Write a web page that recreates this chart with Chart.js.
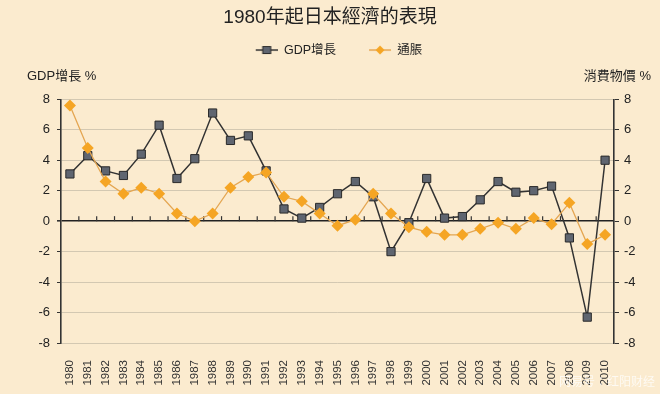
<!DOCTYPE html>
<html>
<head>
<meta charset="utf-8">
<script src="https://cdn.jsdelivr.net/npm/chart.js@4.4.1/dist/chart.umd.min.js"></script>
<style>
  body { margin: 0; background: #fbebcf; }
  canvas { display: block; }
</style>
</head>
<body>
<canvas id="chart" width="660" height="394"></canvas>
<script>
const years = ['1980', '1981', '1982', '1983', '1984', '1985', '1986', '1987', '1988', '1989',
  '1990', '1991', '1992', '1993', '1994', '1995', '1996', '1997', '1998', '1999',
  '2000', '2001', '2002', '2003', '2004', '2005', '2006', '2007', '2008', '2009', '2010'];
const gdpGrowth = [3.1, 4.3, 3.3, 3.0, 4.4, 6.3, 2.8, 4.1, 7.1, 5.3,
  5.6, 3.3, 0.8, 0.2, 0.9, 1.8, 2.6, 1.6, -2.0, -0.1,
  2.8, 0.2, 0.3, 1.4, 2.6, 1.9, 2.0, 2.3, -1.1, -6.3, 4.0];
const inflation = [7.6, 4.8, 2.6, 1.8, 2.2, 1.8, 0.5, 0.0, 0.5, 2.2,
  2.9, 3.2, 1.6, 1.3, 0.5, -0.3, 0.1, 1.8, 0.5, -0.4,
  -0.7, -0.9, -0.9, -0.5, -0.1, -0.5, 0.2, -0.2, 1.2, -1.5, -0.9];
const yTicks = [-8, -6, -4, -2, 0, 2, 4, 6, 8];

const font = "'Liberation Sans', 'Noto Sans CJK TC', sans-serif";
const dark = '#333333';
const gridCol = '#d3c8b2';
const gdpFill = '#5f6570';
const cpiFill = '#f5a524';
const cpiLine = '#e4a652';

// legend swatch: short line with the marker on it
function swatch(kind) {
  const c = document.createElement('canvas');
  c.width = 40; c.height = 12;
  const g = c.getContext('2d');
  g.strokeStyle = kind === 'gdp' ? dark : cpiLine;
  g.lineWidth = 1.5;
  g.beginPath(); g.moveTo(18, 6); g.lineTo(40, 6); g.stroke();
  if (kind === 'gdp') {
    g.fillStyle = gdpFill; g.strokeStyle = '#2a2a2a'; g.lineWidth = 1;
    g.fillRect(25, 2.5, 8, 7); g.strokeRect(25, 2.5, 8, 7);
  } else {
    g.fillStyle = cpiFill;
    g.beginPath(); g.moveTo(29, 1.5); g.lineTo(33.5, 6); g.lineTo(29, 10.5); g.lineTo(24.5, 6); g.closePath(); g.fill();
  }
  return c;
}
const swatches = [swatch('gdp'), swatch('cpi')];

const background = {
  id: 'background',
  beforeDraw(chart) {
    const ctx = chart.ctx;
    ctx.save();
    ctx.fillStyle = '#fbebcf';
    ctx.fillRect(0, 0, chart.width, chart.height);
    ctx.restore();
  }
};

const legendGap = {
  id: 'legendGap',
  beforeInit(chart) {
    const fit = chart.legend.fit;
    chart.legend.fit = function () {
      fit.bind(chart.legend)();
      this.height += 33;
    };
  }
};

// small ticks on the zero line between the years, plus the two axis captions
const extras = {
  id: 'extras',
  beforeDatasetsDraw(chart) {
    const ctx = chart.ctx;
    const x = chart.scales.x;
    const y0 = chart.scales.y.getPixelForValue(0);
    ctx.save();
    ctx.strokeStyle = dark;
    ctx.lineWidth = 1.2;
    for (let i = 0; i < years.length - 1; i++) {
      const px = (x.getPixelForValue(i) + x.getPixelForValue(i + 1)) / 2;
      ctx.beginPath(); ctx.moveTo(px, y0); ctx.lineTo(px, y0 - 5); ctx.stroke();
    }
    ctx.restore();
  },
  afterDraw(chart) {
    const ctx = chart.ctx;
    ctx.save();
    ctx.fillStyle = '#222';
    ctx.font = '13px ' + font;
    ctx.textBaseline = 'middle';
    ctx.textAlign = 'left';
    ctx.fillText('GDP增長 %', 27, 76);
    ctx.textAlign = 'right';
    ctx.fillText('消費物價 %', 651, 76);
    ctx.fillStyle = 'rgba(255,255,255,0.75)';
    ctx.font = '12px ' + font;
    ctx.fillText('网易号：红阳财经', 655, 383);
    ctx.restore();
  }
};

new Chart(document.getElementById('chart'), {
  type: 'line',
  data: {
    labels: years,
    datasets: [{
      label: 'GDP增長',
      data: gdpGrowth,
      yAxisID: 'y',
      borderColor: dark,
      borderWidth: 1.5,
      backgroundColor: gdpFill,
      pointStyle: 'rect',
      pointRadius: 5.8,
      pointBorderColor: '#2a2a2a',
      pointBorderWidth: 1,
      order: 2
    }, {
      label: '通脹',
      data: inflation,
      yAxisID: 'y1',
      borderColor: cpiLine,
      borderWidth: 1.3,
      backgroundColor: cpiFill,
      pointStyle: 'rectRot',
      pointRadius: 6,
      pointBorderWidth: 0,
      order: 1
    }]
  },
  options: {
    responsive: false,
    animation: false,
    layout: { padding: { left: 0, right: 0, top: 0, bottom: 0 } },
    plugins: {
      title: {
        display: true,
        text: '1980年起日本經濟的表現',
        color: '#222',
        font: { family: font, size: 19, weight: 'normal' },
        padding: { top: 6, bottom: 0 }
      },
      legend: {
        labels: {
          usePointStyle: true,
          pointStyleWidth: 40,
          boxHeight: 12,
          padding: 15,
          color: '#222',
          font: { family: font, size: 12.5 },
          generateLabels(chart) {
            return chart.data.datasets.map((ds, i) => ({
              text: ds.label,
              pointStyle: swatches[i],
              fillStyle: ds.backgroundColor,
              strokeStyle: ds.borderColor,
              lineWidth: 0,
              fontColor: '#222',
              datasetIndex: i
            }));
          }
        }
      },
      tooltip: { enabled: false }
    },
    scales: {
      x: {
        offset: true,
        grid: { display: false },
        border: { display: false },
        ticks: {
          autoSkip: false,
          minRotation: 90,
          maxRotation: 90,
          padding: 9,
          color: '#333',
          font: { family: font, size: 11.5 }
        },
        afterFit(scale) { scale.height = 51; }
      },
      y: {
        position: 'left',
        min: -8,
        max: 8,
        afterBuildTicks(scale) { scale.ticks = yTicks.map(v => ({ value: v })); },
        grid: {
          color: ctx => ctx.tick && ctx.tick.value === 0 ? '#222' : gridCol,
          lineWidth: ctx => ctx.tick && ctx.tick.value === 0 ? 1.6 : 1,
          tickColor: dark,
          tickLength: 4
        },
        border: { color: dark, width: 1.6 },
        ticks: { padding: 7, color: '#222', font: { family: font, size: 13 } },
        afterFit(scale) { scale.width = 61; }
      },
      y1: {
        position: 'right',
        min: -8,
        max: 8,
        afterBuildTicks(scale) { scale.ticks = yTicks.map(v => ({ value: v })); },
        grid: { drawOnChartArea: false, tickColor: dark, tickLength: 5 },
        border: { color: dark, width: 1.6 },
        ticks: { padding: 5, color: '#222', font: { family: font, size: 13 } },
        afterFit(scale) { scale.width = 46; }
      }
    }
  },
  plugins: [background, legendGap, extras]
});
</script>
</body>
</html>
